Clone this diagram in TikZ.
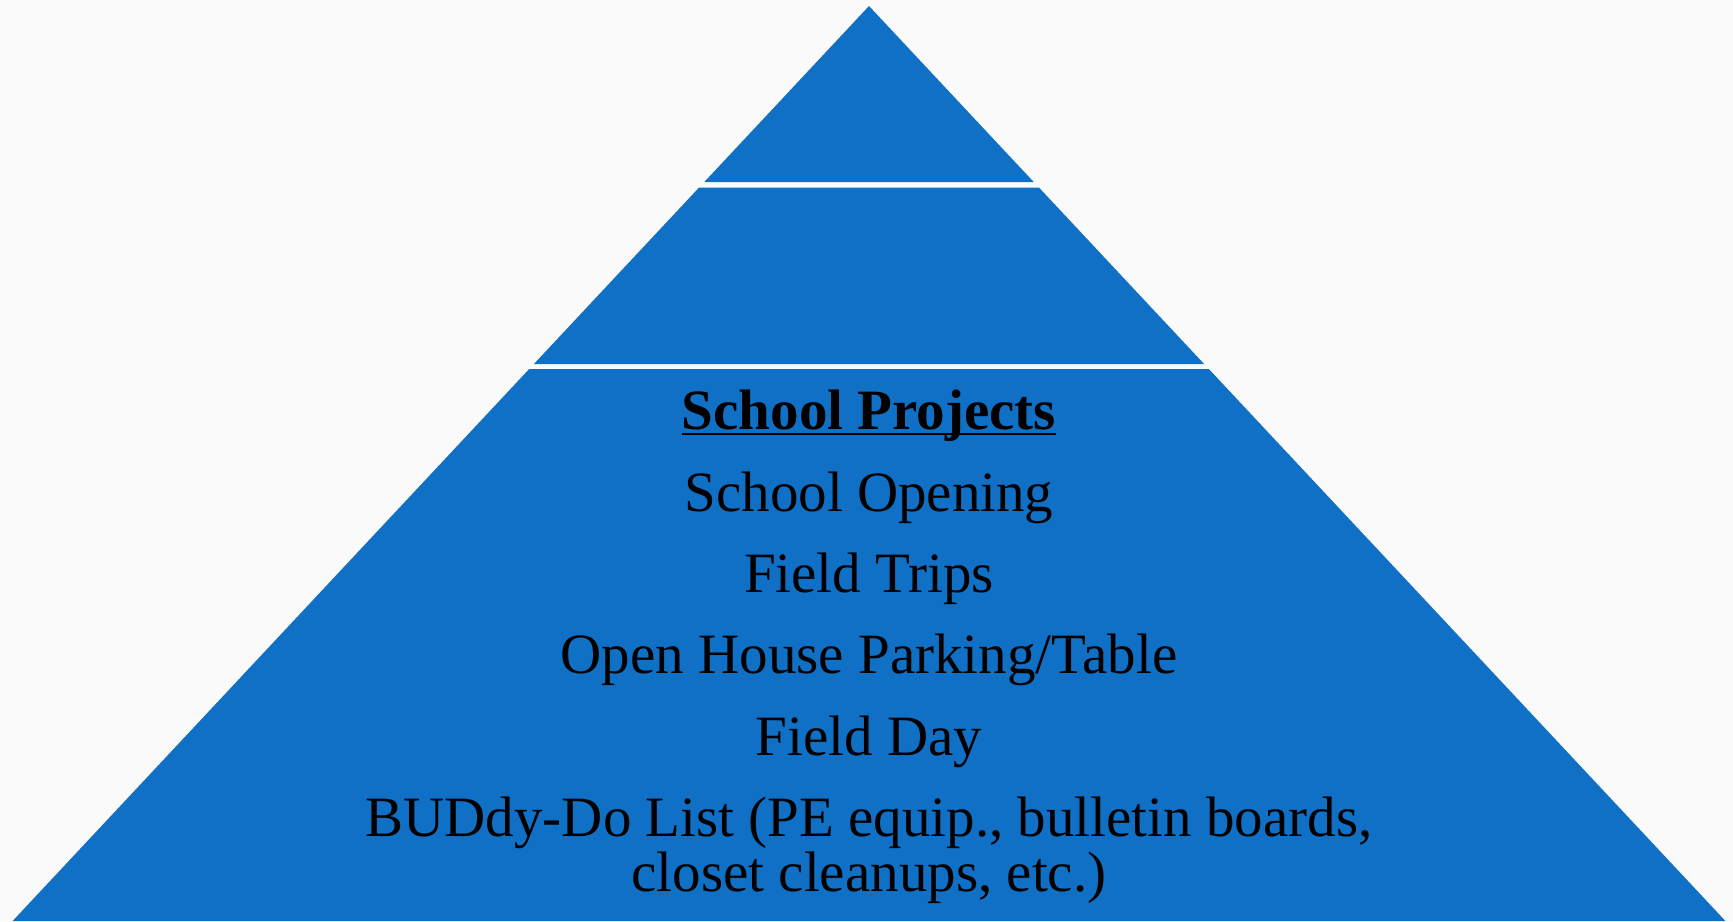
\documentclass[tikz,border=0pt]{standalone}
\usepackage{fontspec}
\setmainfont{Liberation Serif}
\definecolor{pyrblue}{RGB}{16,112,197}
\definecolor{paper}{RGB}{250,250,250}

\begin{document}
\begin{tikzpicture}
   [x=0.5pt,y=-0.5pt,every node/.style={anchor=base,inner sep=0pt,align=center,font=\fontsize{28.5}{27.5}\selectfont}]

  \fill[paper] (0,0) rectangle (1733,921);
  \useasboundingbox (0,0) rectangle (1733,921);

  \fill[pyrblue] (869,6) -- (1033.7,182) -- (704.3,182) -- cycle;
  \fill[pyrblue] (699.1,187.5) -- (1038.9,187.5) -- (1204.1,364) -- (533.9,364) -- cycle;
  \fill[pyrblue] (529.2,369) -- (1208.8,369) -- (1725.4,921) -- (12.6,921) -- cycle;

  \node (title) at (869,429) {\textbf{School Projects}};
  \node (open)  at (869,511) {School Opening};
  \node (trips) at (869,592) {Field Trips};
  \node (house) at (869,673) {Open House Parking/Table};
  \node (day)   at (869,755) {Field Day};
  \node (buddy) at (869,891) {BUDdy-Do List (PE equip., bulletin boards,\\closet cleanups, etc.)};

  \draw[line width=1.1pt] ([yshift=-2.4pt]title.base west) -- ([yshift=-2.4pt]title.base east);

\end{tikzpicture}
\end{document}
